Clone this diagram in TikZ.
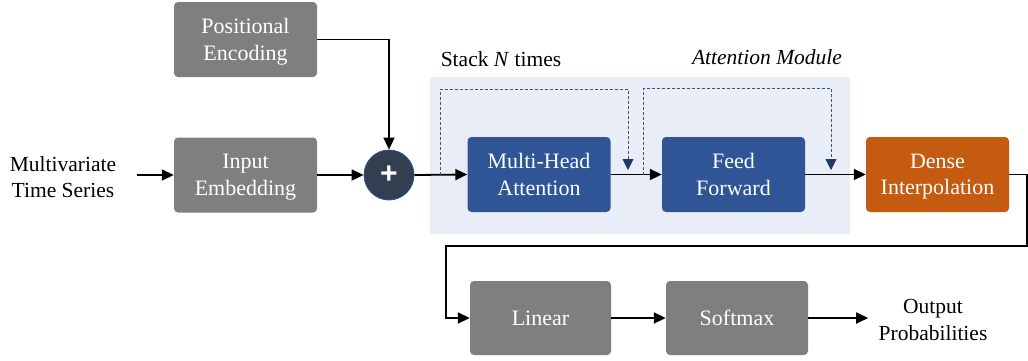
\documentclass[tikz,border=0pt]{standalone}
\usepackage{fontspec}
\setmainfont{Liberation Serif}
\newfontfamily\plusfont{Liberation Sans}
\usetikzlibrary{arrows.meta}

\definecolor{boxgray}{HTML}{7F7F7F}
\definecolor{attblue}{HTML}{2F5597}
\definecolor{denseorange}{HTML}{C55A11}
\definecolor{modulebg}{HTML}{E9EDF7}
\definecolor{sumfill}{HTML}{333F50}
\definecolor{skipline}{HTML}{44546A}
\definecolor{skiptip}{HTML}{1F3864}

\tikzset{
  block/.style={rectangle, rounded corners=4pt, minimum width=143pt, minimum height=75pt,
    inner sep=0pt, align=center, text=white, text depth=0pt, font=\fontsize{22}{26.5}\selectfont},
  graybox/.style={block, fill=boxgray},
  bluebox/.style={block, fill=attblue},
  orangebox/.style={block, fill=denseorange},
  plain/.style={align=center, font=\fontsize{21.5}{26.5}\selectfont},
  flow/.style={line width=1.8pt, -{Triangle[length=12pt,width=11pt]}},
  skip/.style={draw=skipline, line width=0.9pt, dash pattern=on 3pt off 2pt,
    -{Triangle[length=11pt,width=11pt,fill=skiptip,color=skiptip]}}
}

\begin{document}
\begin{tikzpicture}[x=1pt, y=-1pt]
\useasboundingbox (0,0) rectangle (1028,360);

% attention module backdrop
\fill[modulebg] (430,77) rectangle (850,234);
\node[plain] (stack) at (501,59) {Stack \textit{N} times};
\node[plain, font=\fontsize{21.5}{26.5}\selectfont\itshape] (modlabel) at (767,57) {Attention Module};

% blocks
\node[graybox] (pe) at (245.5,39.5) {Positional\\Encoding};
\node[graybox] (ie) at (245.5,175) {Input\\Embedding};
\node[circle, minimum size=50pt, inner sep=0pt, fill=sumfill, draw=attblue, line width=0.8pt,
  text=white, font=\plusfont\bfseries\fontsize{30}{30}\selectfont] (sum) at (389,175) {+};
\node[bluebox] (mha) at (539,174.5) {Multi-Head\\Attention};
\node[bluebox] (ff) at (733.5,174.5) {Feed\\Forward};
\node[orangebox] (dense) at (937.5,174.5) {Dense\\Interpolation};
\node[graybox, minimum width=141pt, minimum height=74pt] (lin) at (540.5,318) {Linear};
\node[graybox, minimum width=142pt, minimum height=74pt] (soft) at (737,318) {Softmax};

\node[plain] (input) at (63,177) {Multivariate\\Time Series};
\node[plain] (output) at (933,320) {Output\\Probabilities};

% main flow
\coordinate (instart) at (137,175);
\draw[flow] (instart) -- (ie.west);
\draw[flow] (ie.east) -- (sum.west);
\draw[flow] (pe.east) -| (sum.north);
\draw[flow] (sum.east) -- (mha.west);
\draw[flow] (mha.east) -- (ff.west);
\draw[flow] (ff.east) -- (dense.west);
\coordinate (turnA) at (1027,174.5);
\coordinate (turnB) at (1027,246);
\coordinate (turnC) at (446,246);
\draw[flow] (dense.east) -- (turnA) -- (turnB) -- (turnC) |- (lin.west);
\draw[flow] (lin.east) -- (soft.west);
\draw[flow] (soft.east) -- ++(60pt,0) coordinate (outend);

% residual connections
\coordinate (r1s) at (440,174.5);
\coordinate (r1e) at (628,170);
\coordinate (r2s) at (643,174.5);
\coordinate (r2e) at (831,170);
\draw[skip] (r1s) -- (440,89) -| (r1e);
\draw[skip] (r2s) -- (643,88) -| (r2e);
\end{tikzpicture}
\end{document}
